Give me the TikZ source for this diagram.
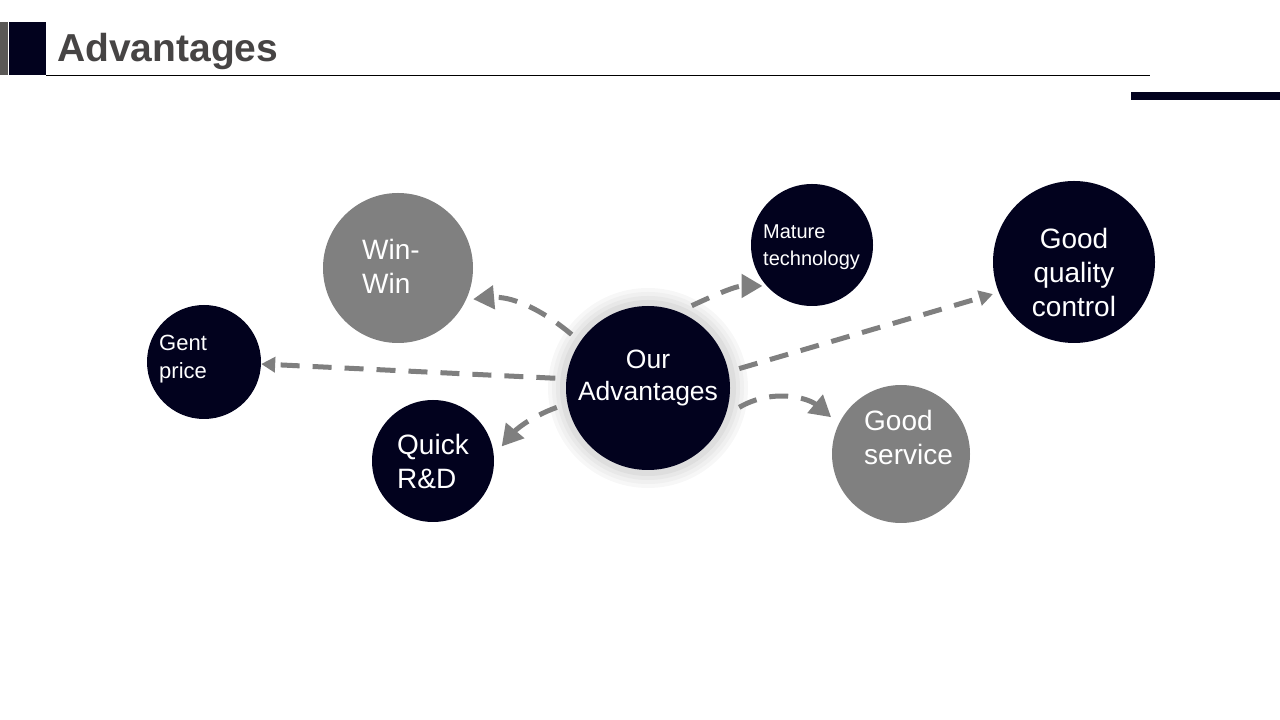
\documentclass[tikz,border=0pt]{standalone}
\usepackage{fontspec}
\setmainfont{Liberation Sans}
\usetikzlibrary{arrows.meta}
\definecolor{navy}{RGB}{2,2,30}
\definecolor{cgray}{RGB}{128,128,128}
\definecolor{agray}{RGB}{127,127,127}
\definecolor{tgray}{RGB}{70,68,68}
\definecolor{bgray}{RGB}{90,88,86}
\begin{document}
\begin{tikzpicture}[x=1pt,y=1pt,
  bubble/.style={circle,inner sep=0pt,draw=none},
  dark/.style={bubble,fill=navy},
  light/.style={bubble,fill=cgray},
  lbl/.style={text=white,inner sep=0pt,align=left},
  big/.style={font=\fontsize{28}{34}\selectfont},
  arr/.style={draw=agray,line width=5pt,dash pattern=on 19pt off 13pt,
              -{Triangle[length=21pt,width=23pt]}},
  smalltip/.style={-{Triangle[length=14pt,width=15pt]}},
]
\useasboundingbox (0,0) rectangle (1280,720);

% header
\fill[bgray] (0,645) rectangle (8,698);
\fill[navy] (9,645) rectangle (46,698);
\node[anchor=base west,inner sep=0pt,text=tgray,font=\fontsize{39}{45}\selectfont\bfseries] (title) at (57,658) {Advantages};
\draw[line width=1.2pt,black] (46,644.5) -- (1150,644.5);
\fill[navy] (1131,620) rectangle (1280,628);

% glow around center
\fill[black!3] (648,332) circle (100);
\fill[black!6] (648,332) circle (96);
\fill[black!9] (648,332) circle (92);
\fill[black!13] (648,332) circle (88);
\node[bubble,minimum size=186pt] (cs) at (648,332) {};
\node[dark,minimum size=164pt] (c) at (648,332) {};
\node[lbl,align=center,font=\fontsize{26.5}{32}\selectfont] (ct) at (648,342) {Our\\Advantages};

% satellites
\node[light,minimum size=150pt] (win) at (398,452) {};
\node[lbl,big,anchor=west] (wint) at (362,454) {Win-\\Win};

\node[dark,minimum size=114pt] (gent) at (204,358) {};
\node[lbl,anchor=west,font=\fontsize{22}{28}\selectfont] (gentt) at (159,361) {Gent\\price};

\node[dark,minimum size=122pt] (quick) at (433,259) {};
\node[lbl,big,anchor=west] (quickt) at (397,259) {Quick\\R\&D};

\node[dark,minimum size=122pt] (mature) at (812,475) {};
\node[lbl,anchor=west,font=\fontsize{20}{27}\selectfont] (maturet) at (763,473) {Mature\\technology};

\node[dark,minimum size=162pt] (quality) at (1074,458) {};
\node[lbl,big,align=center] (qualityt) at (1074,448) {Good\\quality\\control};

\node[light,minimum size=138pt] (service) at (901,266) {};
\node[lbl,big,anchor=west] (servicet) at (864,283) {Good\\service};

% connectors
\draw[arr,smalltip] (cs.174) -- (gent.-2);
\draw[arr,shorten >=7pt] (cs.145) to[out=140,in=5] (win.-25);
\draw[arr,shorten >=4pt] (cs.62) to[out=25,in=180] (mature.222);
\draw[arr,smalltip,shorten >=6pt] (cs.12) -- (quality.202);
\draw[arr,shorten >=10pt] (cs.-12) to[out=30,in=140] (service.154);
\draw[arr,shorten >=12pt] (cs.-168) to[out=200,in=50] (quick.5);
\end{tikzpicture}
\end{document}
